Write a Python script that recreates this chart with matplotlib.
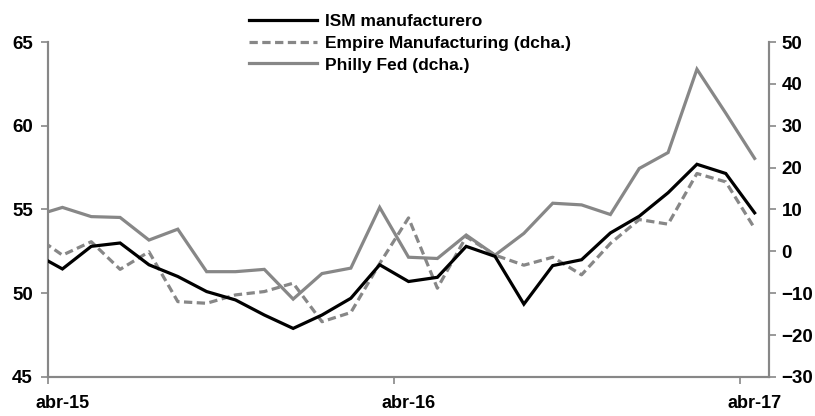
import numpy as np
import matplotlib.pyplot as plt

plt.rcParams['font.family'] = ['Liberation Sans Narrow', 'Liberation Sans', 'DejaVu Sans']
plt.rcParams['font.weight'] = 'bold'

# months from abr-15 (points sit mid-month; first one is mar-15, cut by the axis)
months = np.arange(26) - 0.5
ism = [52.4, 51.45, 52.8, 53.0, 51.7, 51.0, 50.1, 49.6, 48.7, 47.9, 48.7, 49.7, 51.7,
       50.7, 50.95, 52.8, 52.2, 49.35, 51.65, 52.0, 53.6, 54.6, 56.0, 57.7, 57.15, 54.8]
empire = [3.9, -0.9, 2.3, -4.3, -0.1, -12.0, -12.4, -10.4, -9.6, -7.6, -16.8, -14.6, -2.9,
          8.0, -8.8, 3.5, -0.9, -3.3, -1.4, -5.6, 1.9, 7.6, 6.5, 18.6, 16.6, 5.5]
philly = [8.4, 10.5, 8.3, 8.1, 2.7, 5.3, -4.85, -4.85, -4.3, -11.4, -5.3, -4.0, 10.5,
          -1.4, -1.7, 3.9, -0.9, 4.3, 11.5, 11.1, 8.8, 19.8, 23.6, 43.5, 33.0, 22.2]
tick_pos = [0, 12, 24]
tick_labels = ['abr-15', 'abr-16', 'abr-17']

grey = '#878787'
fig = plt.figure(figsize=(8.15, 4.16), dpi=100)
ax = fig.add_axes([0.0589, 0.0938, 0.8847, 0.8052])
ax2 = ax.twinx()

l1, = ax.plot(months, ism, color='black', lw=2.3, solid_joinstyle='miter', zorder=3)
l2, = ax2.plot(months, empire, color=grey, lw=2.3, dashes=(2.6, 1.4))
l3, = ax2.plot(months, philly, color=grey, lw=2.3, solid_joinstyle='miter')
ax.set_zorder(ax2.get_zorder() + 1)
ax.patch.set_visible(False)

ax.set_xlim(0, 25)
ax.set_ylim(45, 65)
ax2.set_ylim(-30, 50)
ax.set_yticks(np.arange(45, 66, 5))
ax2.set_yticks(np.arange(-30, 51, 10))

# ticks at the start of april, labels centred half a month later
ax.set_xticks(tick_pos)
ax.set_xticklabels([])
ax.set_xticks([p + 0.5 for p in tick_pos], minor=True)
ax.set_xticklabels(tick_labels, minor=True)
ax.tick_params(axis='x', which='minor', length=0, pad=13, labelsize=13)
ax.tick_params(axis='x', which='major', length=5, width=1.2, color=grey)

ax.tick_params(axis='y', length=5, width=1.2, color=grey, pad=6, labelsize=13.5)
ax2.tick_params(axis='y', length=5, width=1.2, color=grey, pad=4, labelsize=13.5)

for a in (ax, ax2):
    a.spines['top'].set_visible(False)
    for s in ('left', 'right', 'bottom'):
        a.spines[s].set_color(grey)
        a.spines[s].set_linewidth(1.5)

fig.legend([l1, l2, l3], ['ISM manufacturero', 'Empire Manufacturing (dcha.)', 'Philly Fed (dcha.)'],
           loc='upper left', bbox_to_anchor=(0.289, 1.0), frameon=False, fontsize=12.5,
           handlelength=3.9, handletextpad=0.45, labelspacing=0.38, borderpad=0.3)

fig.savefig('out.png', dpi=100)
